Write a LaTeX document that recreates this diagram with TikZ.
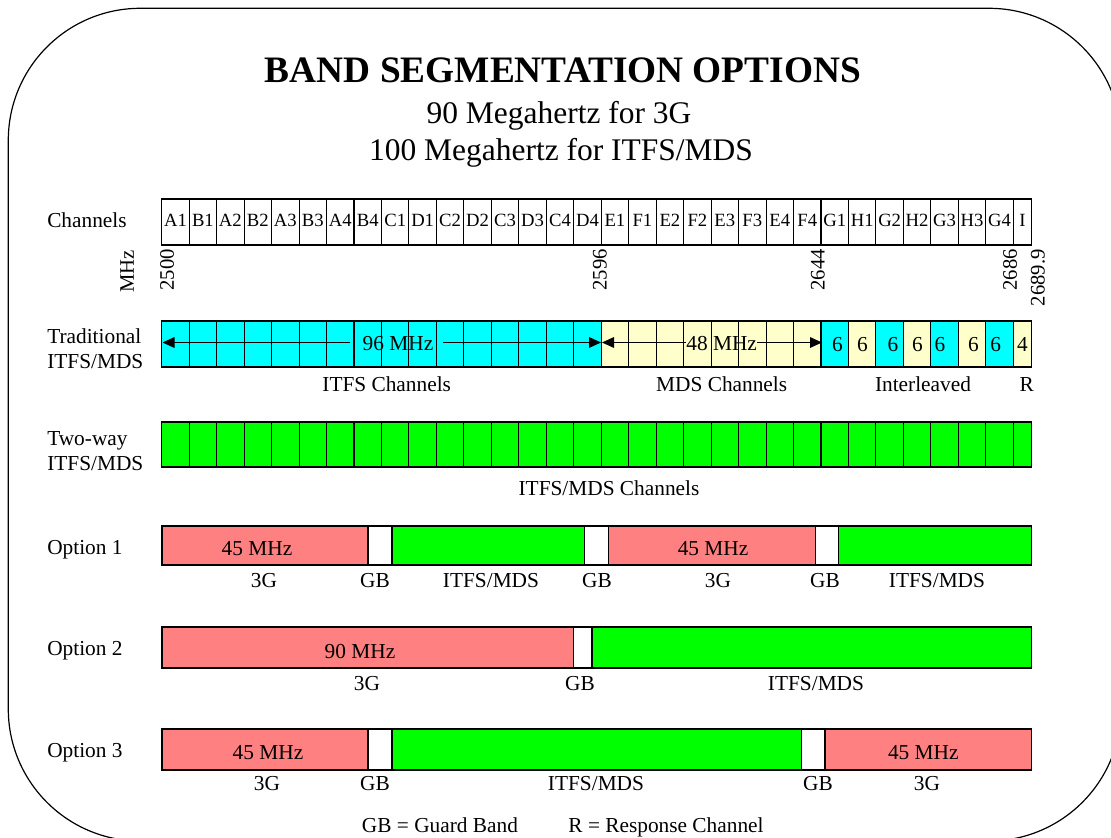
\documentclass[tikz,border=0pt]{standalone}
\usepackage{fontspec}
\setmainfont{Liberation Serif}
\usetikzlibrary{arrows.meta}
\definecolor{cyanc}{HTML}{00FFFF}
\definecolor{yel}{HTML}{FFFFCC}
\definecolor{grn}{HTML}{00FF00}
\definecolor{pnk}{HTML}{FF8080}
\begin{document}
\begin{tikzpicture}[x=0.75pt,y=-0.75pt,
  lbl/.style={font=\rmfamily\fontsize{16}{18}\selectfont, anchor=base, inner sep=0},
  leftlbl/.style={lbl, anchor=base west},
  cellbox/.style={draw=black, line width=0.8pt},
  chl/.style={font=\rmfamily\fontsize{14}{16}\selectfont, anchor=base, inner sep=0},
  mhzlbl/.style={font=\rmfamily\fontsize{15.5}{17}\selectfont, rotate=90, anchor=east, inner sep=0},
  sublbl/.style={font=\rmfamily\fontsize{23.6}{28}\selectfont, anchor=base, inner sep=0},
  dimarrow/.style={-{Triangle[length=9pt,width=8pt]}, line width=0.8pt}
]
\useasboundingbox (0,0) rectangle (1111,838);
\begin{scope}
  \clip (0,0) rectangle (1111,838);
  \draw[line width=0.9pt, rounded corners=99pt] (8.3,8.3) rectangle (1121,841);
\end{scope}

% Titles
\node[font=\rmfamily\fontsize{28}{32}\selectfont\bfseries, anchor=base, inner sep=0] (title) at (563,83) {BAND SEGMENTATION OPTIONS};
\node[sublbl] (sub1) at (559,124) {90 Megahertz for 3G};
\node[sublbl] (sub2) at (561,161) {100 Megahertz for ITFS/MDS};

% Left labels
\node[leftlbl] (lch) at (47,228) {Channels};
\node[leftlbl] (ltr1) at (47,343) {Traditional};
\node[leftlbl] (ltr2) at (47,368) {ITFS/MDS};
\node[leftlbl] (ltw1) at (47,445) {Two-way};
\node[leftlbl] (ltw2) at (47,470) {ITFS/MDS};
\node[leftlbl] (lo1) at (47,554) {Option 1};
\node[leftlbl] (lo2) at (47,655) {Option 2};
\node[leftlbl] (lo3) at (47,757) {Option 3};

% Channel row
\foreach \n [count=\i from 0] in {A1,B1,A2,B2,A3,B3,A4,B4,C1,D1,C2,D2,C3,D3,C4,D4,E1,F1,E2,F2,E3,F3,E4,F4,G1,H1,G2,H2,G3,H3,G4} {
  \pgfmathsetmacro\xa{161.7+27.47*\i}
  \draw[cellbox] (\xa,199) rectangle ++(27.47,46);
  \node[chl] (ch\n) at (\xa+13.73,227) {\n};
}
\draw[cellbox] (1013.3,199) rectangle (1031.7,245);
\node[chl] (chI) at (1022.5,227) {I};

% MHz labels
\node[mhzlbl] (mhz) at (127,250) {MHz};
\node[mhzlbl] (f2500) at (167,249) {2500};
\node[mhzlbl] (f2596) at (600,249) {2596};
\node[mhzlbl] (f2644) at (818,249) {2644};
\node[mhzlbl] (f2686) at (1010,249) {2686};
\node[mhzlbl] (f2689) at (1038,249) {2689.9};

% Traditional row
\foreach \i in {0,...,15,24,26,28,30} {
  \pgfmathsetmacro\xa{161.7+27.47*\i}
  \draw[cellbox, fill=cyanc] (\xa,321) rectangle ++(27.47,46);
}
\foreach \i in {16,...,23,25,27,29} {
  \pgfmathsetmacro\xa{161.7+27.47*\i}
  \draw[cellbox, fill=yel] (\xa,321) rectangle ++(27.47,46);
}
\draw[cellbox, fill=yel] (1013.3,321) rectangle (1031.7,367);

\node[lbl] (t96) at (398,350.7) {96 MHz};
\coordinate (a96l) at (350,342.5);
\coordinate (a96le) at (162.5,342.5);
\coordinate (a96r) at (443,342.5);
\coordinate (a96re) at (601,342.5);
\draw[dimarrow] (a96l) -- (a96le);
\draw[dimarrow] (a96r) -- (a96re);

\node[lbl] (t48) at (721.7,350.7) {48 MHz};
\coordinate (a48l) at (686,342.5);
\coordinate (a48le) at (602,342.5);
\coordinate (a48r) at (757,342.5);
\coordinate (a48re) at (822,342.5);
\draw[dimarrow] (a48l) -- (a48le);
\draw[dimarrow] (a48r) -- (a48re);

\node[lbl] (s1) at (837.5,351) {6};
\node[lbl] (s2) at (862.5,351) {6};
\node[lbl] (s3) at (893,351) {6};
\node[lbl] (s4) at (917.5,351) {6};
\node[lbl] (s5) at (940,351) {6};
\node[lbl] (s6) at (973.5,351) {6};
\node[lbl] (s7) at (995.8,351) {6};
\node[lbl] (s8) at (1022.5,351) {4};

\node[lbl] (itfsch) at (386.7,391.7) {ITFS Channels};
\node[lbl] (mdsch) at (721.7,391.7) {MDS Channels};
\node[lbl] (interl) at (923,391.7) {Interleaved};
\node[lbl] (rlbl) at (1026.7,391.7) {R};

% Two-way row
\foreach \i in {0,...,30} {
  \pgfmathsetmacro\xa{161.7+27.47*\i}
  \draw[cellbox, fill=grn] (\xa,422) rectangle ++(27.47,45);
}
\draw[cellbox, fill=grn] (1013.3,422) rectangle (1031.7,467);
\node[lbl] (twch) at (609,495) {ITFS/MDS Channels};

% Option 1
\draw[cellbox, fill=pnk] (162,526) rectangle (368,565);
\draw[cellbox, fill=white] (368,526) rectangle (392,565);
\draw[cellbox, fill=grn] (392,526) rectangle (584.3,565);
\draw[cellbox, fill=white] (584.3,526) rectangle (608.6,565);
\draw[cellbox, fill=pnk] (608.6,526) rectangle (815.7,565);
\draw[cellbox, fill=white] (815.7,526) rectangle (838.8,565);
\draw[cellbox, fill=grn] (838.8,526) rectangle (1031.7,565);
\node[lbl] (o1m1) at (257,555) {45 MHz};
\node[lbl] (o1m2) at (713,555) {45 MHz};
\node[lbl] (o1a) at (264,587) {3G};
\node[lbl] (o1b) at (375,587) {GB};
\node[lbl] (o1c) at (491,587) {ITFS/MDS};
\node[lbl] (o1d) at (597,587) {GB};
\node[lbl] (o1e) at (718,587) {3G};
\node[lbl] (o1f) at (825,587) {GB};
\node[lbl] (o1g) at (937,587) {ITFS/MDS};

% Option 2
\draw[cellbox, fill=pnk] (162,627) rectangle (573.4,668);
\draw[cellbox, fill=white] (573.4,627) rectangle (592,668);
\draw[cellbox, fill=grn] (592,627) rectangle (1031.7,668);
\node[lbl] (o2m) at (360,658) {90 MHz};
\node[lbl] (o2a) at (367,690) {3G};
\node[lbl] (o2b) at (580,690) {GB};
\node[lbl] (o2c) at (816,690) {ITFS/MDS};

% Option 3
\draw[cellbox, fill=pnk] (162,729) rectangle (368,770);
\draw[cellbox, fill=white] (368,729) rectangle (392,770);
\draw[cellbox, fill=grn] (392,729) rectangle (801.7,770);
\draw[cellbox, fill=white] (801.7,729) rectangle (825,770);
\draw[cellbox, fill=pnk] (825,729) rectangle (1031.7,770);
\node[lbl] (o3m1) at (268,759) {45 MHz};
\node[lbl] (o3m2) at (923.3,759) {45 MHz};
\node[lbl] (o3a) at (267,790.7) {3G};
\node[lbl] (o3b) at (375,790.7) {GB};
\node[lbl] (o3c) at (596,790.7) {ITFS/MDS};
\node[lbl] (o3d) at (818,790.7) {GB};
\node[lbl] (o3e) at (927,790.7) {3G};

% Footer
\node[lbl] (gbkey) at (440,832) {GB = Guard Band};
\node[lbl] (rkey) at (666,832) {R = Response Channel};
\end{tikzpicture}
\end{document}
